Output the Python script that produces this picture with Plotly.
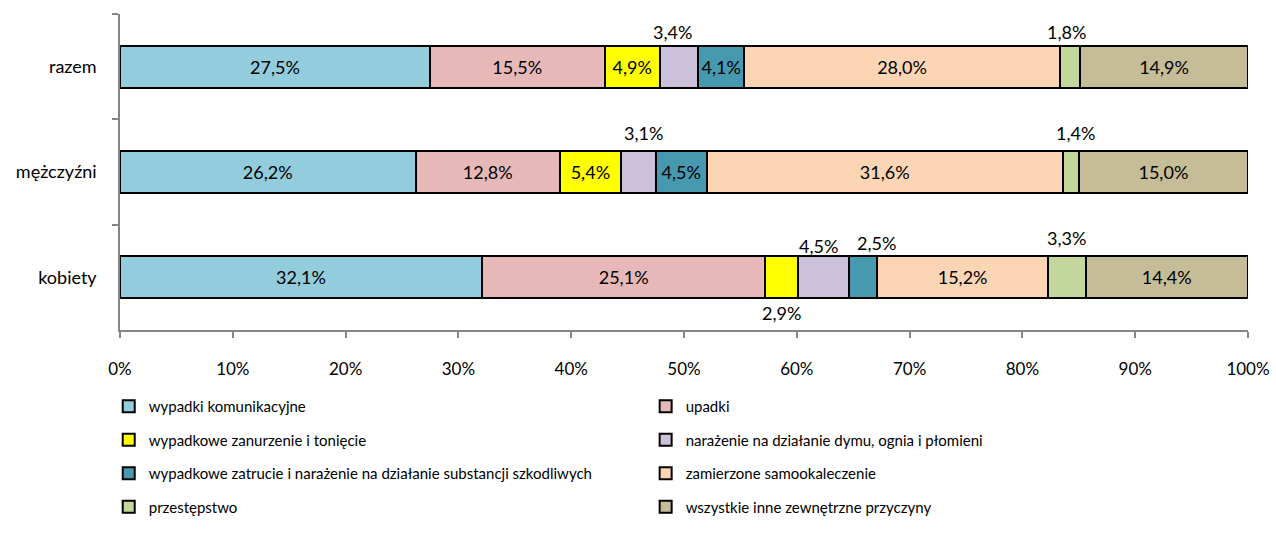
import plotly.graph_objects as go

# Grupy (kategorie osi Y) i przyczyny zgonów z przyczyn zewnętrznych
groups = ["razem", "mężczyźni", "kobiety"]
causes = [
    "wypadki komunikacyjne",
    "upadki",
    "wypadkowe zanurzenie i tonięcie",
    "narażenie na działanie dymu, ognia i płomieni",
    "wypadkowe zatrucie i narażenie na działanie substancji szkodliwych",
    "zamierzone samookaleczenie",
    "przestępstwo",
    "wszystkie inne zewnętrzne przyczyny",
]

# Udział procentowy (razem, mężczyźni, kobiety)
wypadki_kom = [27.5, 26.2, 32.1]
upadki = [15.5, 12.8, 25.1]
zanurzenie = [4.9, 5.4, 2.9]
dym_ogien = [3.4, 3.1, 4.5]
zatrucie = [4.1, 4.5, 2.5]
samookaleczenie = [28.0, 31.6, 15.2]
przestepstwo = [1.8, 1.4, 3.3]
inne = [14.9, 15.0, 14.4]

series = [wypadki_kom, upadki, zanurzenie, dym_ogien, zatrucie,
          samookaleczenie, przestepstwo, inne]

colors = ["#93CDDD", "#E6B9B8", "#FFFF00", "#CCC1DA",
          "#4799B0", "#FCD5B5", "#C3D69B", "#C4BD97"]

# Etykiety rysowane poza słupkiem: (seria, grupa) -> (przesunięcie x, przesunięcie y)
outside = {
    (3, 0): (-6, -35),
    (6, 0): (-3, -35),
    (3, 1): (5, -39),
    (6, 1): (5, -39),
    (2, 2): (0, 36),
    (3, 2): (-5, -31),
    (4, 2): (14, -34),
    (6, 2): (0, -39),
}

FONT = "Lato, 'Open Sans', sans-serif"
FS_LABEL = 18
FS_TICK = 17
FS_LEGEND = 15


def fmt(v):
    return f"{v:.1f}%".replace(".", ",")


fig = go.Figure()
for i, (name, vals, col) in enumerate(zip(causes, series, colors)):
    texts = ["" if (i, g) in outside else fmt(v) for g, v in enumerate(vals)]
    fig.add_trace(go.Bar(
        y=groups, x=vals, name=name, orientation="h",
        marker=dict(color=col, line=dict(color="#000000", width=2)),
        text=texts, textposition="inside", insidetextanchor="middle",
        textangle=0, textfont=dict(family=FONT, size=FS_LABEL, color="#000000"),
        legend="legend" if i % 2 == 0 else "legend2",
        legendgroup=f"g{i}", hoverinfo="skip",
    ))

# Etykiety wartości dla wąskich segmentów
totals = [sum(s[g] for s in series) for g in range(len(groups))]
annotations = []
for (i, g), (dx, dy) in outside.items():
    start = sum(series[k][g] for k in range(i))
    mid = (start + series[i][g] / 2) / totals[g] * 100
    annotations.append(dict(
        x=mid, y=groups[g], xref="x", yref="y", text=fmt(series[i][g]),
        showarrow=False, xshift=dx, yshift=-dy,
        font=dict(family=FONT, size=FS_LABEL, color="#000000"),
    ))

legend_common = dict(
    orientation="v", traceorder="grouped", tracegroupgap=11,
    font=dict(family=FONT, size=FS_LEGEND, color="#000000"),
    bgcolor="rgba(0,0,0,0)", borderwidth=0,
    xanchor="left", yanchor="top", itemclick=False, itemdoubleclick=False,
)

fig.update_layout(
    width=1276, height=551,
    margin=dict(l=120, r=28, t=14, b=221, autoexpand=False),
    paper_bgcolor="#FFFFFF", plot_bgcolor="#FFFFFF",
    barmode="stack", barnorm="percent", bargap=0.6,
    font=dict(family=FONT, size=FS_TICK, color="#000000"),
    uniformtext=dict(minsize=FS_LABEL, mode="show"),
    showlegend=True,
    legend=dict(x=-0.01, y=-0.19, **legend_common),
    legend2=dict(x=0.466, y=-0.19, **legend_common),
    annotations=annotations,
    xaxis=dict(
        range=[0, 100], tickmode="linear", tick0=0, dtick=10,
        ticksuffix="%", showgrid=False, zeroline=False,
        showline=True, linecolor="#868686", linewidth=1.5,
        ticks="outside", ticklen=6, tickcolor="#868686", tickwidth=1.5,
        tickfont=dict(family=FONT, size=FS_TICK, color="#000000"),
        ticklabelstandoff=17, fixedrange=True, automargin=False,
    ),
    yaxis=dict(
        type="category", categoryorder="array", categoryarray=groups,
        autorange="reversed", showgrid=False, zeroline=False,
        showline=True, linecolor="#868686", linewidth=1.5,
        ticks="outside", ticklen=6, tickcolor="#868686", tickwidth=1.5,
        tickson="boundaries", ticklabelstandoff=18,
        tickfont=dict(family=FONT, size=FS_TICK + 1, color="#000000"),
        fixedrange=True, automargin=False,
    ),
)

fig.write_html("out.html")
